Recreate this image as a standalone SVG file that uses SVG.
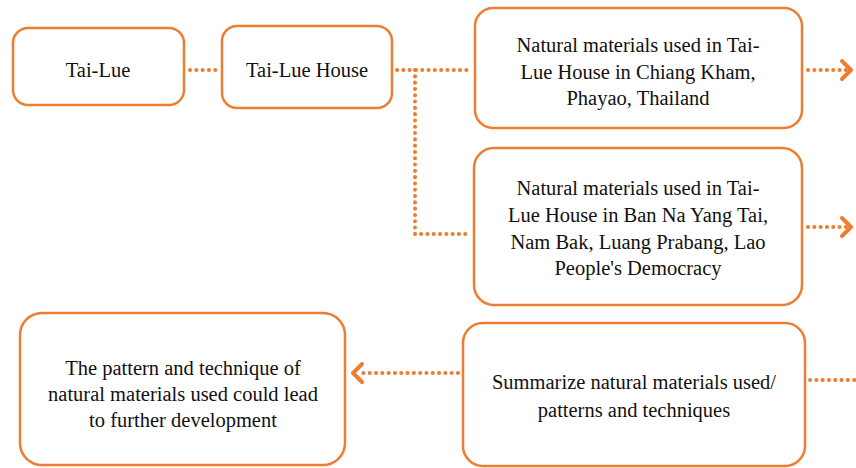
<svg xmlns="http://www.w3.org/2000/svg" width="856" height="468" viewBox="0 0 856 468">
<defs>
<style>
.box{fill:#fff;stroke:#ED7D31;stroke-width:2.5}
.t{font-family:"Liberation Serif",serif;font-size:20.5px;fill:#111;text-anchor:middle}
.dot{fill:none;stroke:#ED7D31;stroke-width:4;stroke-linecap:round;stroke-dasharray:0.1 6.2}
.ah{fill:none;stroke:#ED7D31;stroke-width:4;stroke-linecap:round;stroke-linejoin:round}
</style>
</defs>
<rect width="856" height="468" fill="#fff"/>
<g id="connectors">
<path class="dot" d="M190 70 H218"/>
<path class="dot" d="M397 70 H472"/>
<path class="dot" d="M415 70 V234 H470"/>
<path class="dot" d="M808 70 H846"/>
<path class="ah" d="M842 61 L851 70 L842 79"/>
<path class="dot" d="M808 227 H846"/>
<path class="ah" d="M842 218 L851 227 L842 236"/>
<path class="dot" d="M810 380 H856"/>
<path class="dot" d="M458 373 H362"/>
<path class="ah" d="M362 364 L353 373 L362 382"/>
</g>
<g id="n1"><rect class="box" x="13" y="28" width="171" height="77" rx="15"/><text class="t" x="98" y="77">Tai-Lue</text></g>
<g id="n2"><rect class="box" x="222" y="26" width="170" height="82" rx="15"/><text class="t" x="307" y="77">Tai-Lue House</text></g>
<g id="n3"><rect class="box" x="475" y="8" width="327" height="120" rx="18"/>
<text class="t" x="638" y="52">Natural materials used in Tai-</text>
<text class="t" x="638" y="79">Lue House in Chiang Kham,</text>
<text class="t" x="638" y="105">Phayao, Thailand</text></g>
<g id="n4"><rect class="box" x="474" y="148" width="328" height="157" rx="20"/>
<text class="t" x="638" y="195">Natural materials used in Tai-</text>
<text class="t" x="638" y="222">Lue House in Ban Na Yang Tai,</text>
<text class="t" x="638" y="249">Nam Bak, Luang Prabang, Lao</text>
<text class="t" x="638" y="275">People's Democracy</text></g>
<g id="n5"><rect class="box" x="20" y="313" width="325" height="152" rx="22"/>
<text class="t" x="183" y="375">The pattern and technique of</text>
<text class="t" x="183" y="401">natural materials used could lead</text>
<text class="t" x="183" y="427">to further development</text></g>
<g id="n6"><rect class="box" x="463" y="323" width="342" height="143" rx="20"/>
<text class="t" x="634" y="389">Summarize natural materials used/</text>
<text class="t" x="634" y="417">patterns and techniques</text></g>
</svg>
